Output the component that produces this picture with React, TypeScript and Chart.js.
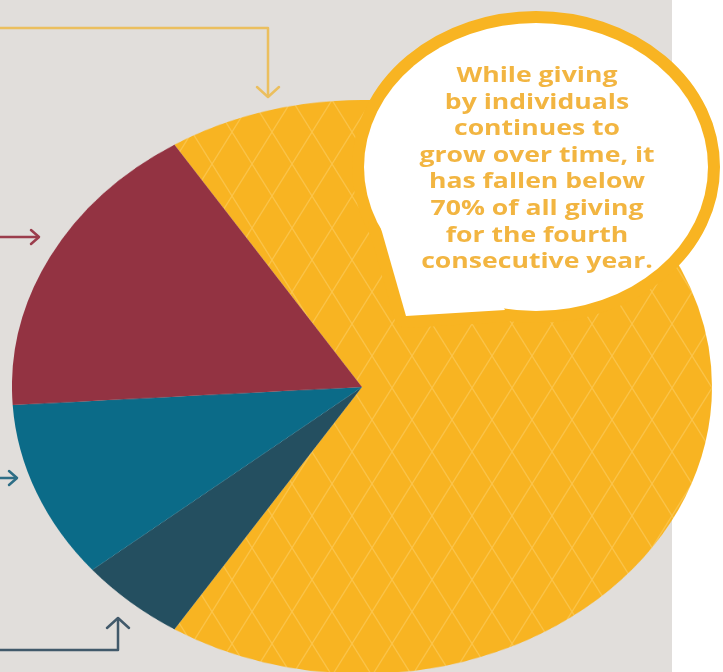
import React, { useEffect, useRef } from "react";
import { Chart, registerables } from "chart.js";

Chart.register(...registerables);

// Share of total giving by source (percent)
const categories = ["Individuals", "Corporations", "Bequests", "Foundations"];
const shares = [68, 5, 10, 17];
const sliceColors = ["#F8B422", "#244F60", "#0B6B88", "#933342"];
const calloutLines = [
  "While giving",
  "by individuals",
  "continues to",
  "grow over time, it",
  "has fallen below",
  "70% of all giving",
  "for the fourth",
  "consecutive year.",
];

const SQUASH = 0.82;

export default function App() {
  const ref = useRef<HTMLCanvasElement>(null);

  useEffect(() => {
    const canvas = ref.current;
    if (!canvas) return;
    const pc = document.createElement("canvas");
    pc.width = 40;
    pc.height = 78;
    const g = pc.getContext("2d")!;
    g.fillStyle = sliceColors[0];
    g.fillRect(0, 0, 40, 78);
    g.strokeStyle = "rgba(255,220,130,0.42)";
    g.lineWidth = 1.4;
    g.beginPath();
    g.moveTo(0, 0);
    g.lineTo(40, 78);
    g.moveTo(40, 0);
    g.lineTo(0, 78);
    g.stroke();
    const pattern = canvas.getContext("2d")!.createPattern(pc, "repeat");
    const bg = sliceColors.map((c, i) => (i === 0 && pattern ? pattern : c));

    const chart = new Chart(canvas, {
      type: "pie",
      data: {
        labels: categories,
        datasets: [
          {
            data: shares,
            backgroundColor: bg as any,
            borderWidth: 0,
            hoverBorderWidth: 0,
            hoverOffset: 0,
          },
        ],
      },
      options: {
        responsive: false,
        animation: false,
        rotation: -32.4,
        layout: { padding: 0 },
        plugins: { legend: { display: false }, tooltip: { enabled: false } },
        events: [],
      },
    });
    return () => chart.destroy();
  }, []);

  const yellowArrow = "#EBBF5E";
  const maroonArrow = "#9B3D4C";
  const tealArrow = "#2E6E86";
  const darkArrow = "#41596A";

  return (
    <div
      style={{
        position: "fixed",
        left: 0,
        top: 0,
        width: 723,
        height: 672,
        background: "#FFFFFF",
        overflow: "hidden",
      }}
    >
      <div
        style={{
          position: "absolute",
          left: 0,
          top: 0,
          width: 672,
          height: 672,
          background: "#E1DEDB",
        }}
      />
      <svg
        width={723}
        height={672}
        style={{ position: "absolute", left: 0, top: 0 }}
      >
        <g fill="none" strokeWidth={2.5} strokeLinecap="round" strokeLinejoin="round">
          <path d="M0 28 H268 V96" stroke={yellowArrow} />
          <path d="M257 87 L268 97 L279 87" stroke={yellowArrow} />
          <path d="M0 237 H38" stroke={maroonArrow} />
          <path d="M31 230 L39 237 L31 244" stroke={maroonArrow} />
          <path d="M0 478 H16" stroke={tealArrow} />
          <path d="M9 471 L17 478 L9 485" stroke={tealArrow} />
          <path d="M0 650 H118 V619" stroke={darkArrow} />
          <path d="M107 628 L118 618 L129 628" stroke={darkArrow} />
        </g>
      </svg>
      <div
        style={{
          position: "absolute",
          left: 12,
          top: 37,
          width: 700,
          height: 700,
          transform: `scaleY(${SQUASH})`,
          transformOrigin: "50% 50%",
        }}
      >
        <canvas ref={ref} width={700} height={700} style={{ display: "block" }} />
      </div>
      <svg
        width={723}
        height={672}
        style={{ position: "absolute", left: 0, top: 0 }}
      >
        <ellipse cx={536} cy={167} rx={172} ry={144} fill="none" stroke="#F8B422" strokeWidth={24} />
        <polygon
          points="380,225 406,316 505,310 470,250"
          fill="none"
          stroke="#F8B422"
          strokeWidth={24}
          strokeLinejoin="round"
        />
        <ellipse cx={536} cy={167} rx={172} ry={144} fill="#FFFFFF" />
        <polygon points="380,225 406,316 505,310 470,250" fill="#FFFFFF" />
        {calloutLines.map((t, i) => (
          <text
            key={i}
            transform={`translate(537 ${82 + i * 26.6}) scale(1 ${SQUASH})`}
            textAnchor="middle"
            fontFamily="'Open Sans', sans-serif"
            fontWeight={700}
            fontSize={26.6}
            fill="#F2B541"
          >
            {t}
          </text>
        ))}
      </svg>
    </div>
  );
}
